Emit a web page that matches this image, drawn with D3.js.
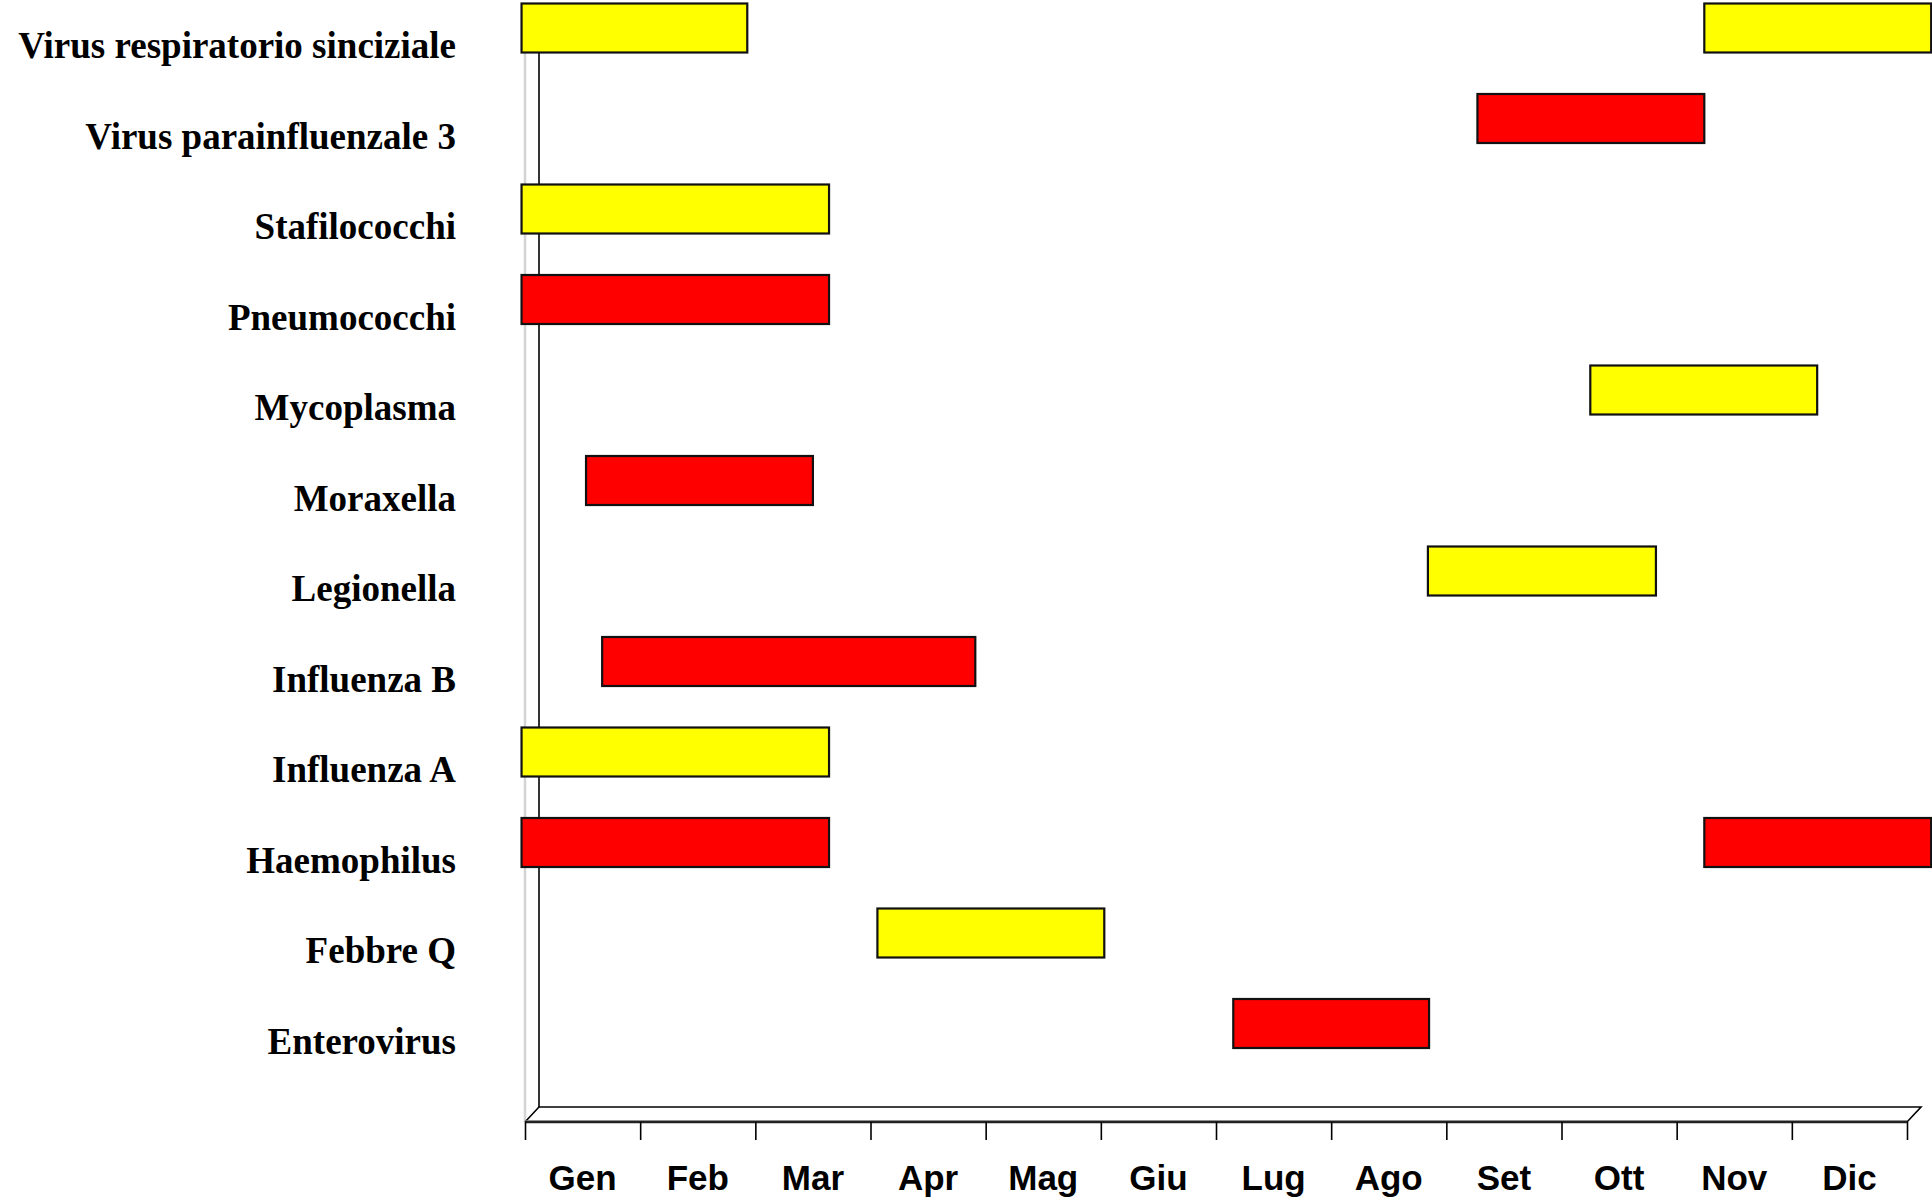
<!DOCTYPE html>
<html>
<head>
<meta charset="utf-8">
<script src="https://cdn.jsdelivr.net/npm/d3@7"></script>
<style>
  html, body { margin: 0; padding: 0; background: #fff; }
  svg { display: block; }
</style>
</head>
<body>
<script>
// Seasonal peaks of respiratory pathogens, months on a 0–12 scale (0 = start of January)
const pathogens = [
  "Virus respiratorio sinciziale",
  "Virus parainfluenzale 3",
  "Stafilococchi",
  "Pneumococchi",
  "Mycoplasma",
  "Moraxella",
  "Legionella",
  "Influenza B",
  "Influenza A",
  "Haemophilus",
  "Febbre Q",
  "Enterovirus"
];
const seasonStart = [-0.03, 8.27, -0.03, -0.03, 9.25, 0.53, 7.84, 0.67, -0.03, -0.03, 3.06, 6.15];
const seasonEnd   = [ 1.93, 10.24, 2.64, 2.64, 11.22, 2.50, 9.82, 3.91, 2.64, 2.64, 5.03, 7.85];
// second season within the same year (late autumn), null where absent
const lateStart = [10.24, null, null, null, null, null, null, null, null, 10.24, null, null];
const lateEnd   = [12.21, null, null, null, null, null, null, null, null, 12.21, null, null];
const months = ["Gen", "Feb", "Mar", "Apr", "Mag", "Giu", "Lug", "Ago", "Set", "Ott", "Nov", "Dic"];

const W = 1932, H = 1199;
const svg = d3.select("body").append("svg").attr("width", W).attr("height", H);

const x = d3.scaleLinear().domain([0, 12]).range([525, 1907]);
const y = d3.scalePoint().domain(pathogens).range([28, 1023.5]);
const depthX = 14, depthY = -15;
const floorY = 1122, topY = 23;
const barH = 49;

// left wall and floor of the 3D frame
const wall = svg.append("g").attr("fill", "none");
wall.append("line")
  .attr("x1", x(0)).attr("x2", x(0)).attr("y1", topY).attr("y2", floorY)
  .attr("stroke", "#d4d4d4").attr("stroke-width", 2.5);
wall.append("line")
  .attr("x1", x(0) + depthX).attr("x2", x(0) + depthX).attr("y1", topY + depthY).attr("y2", floorY + depthY)
  .attr("stroke", "#000").attr("stroke-width", 1.6);
wall.append("line")
  .attr("x1", x(0)).attr("x2", x(0) + depthX).attr("y1", topY).attr("y2", topY + depthY)
  .attr("stroke", "#000").attr("stroke-width", 1.6);
wall.append("path")
  .attr("d", `M${x(0)},${floorY} L${x(0) + depthX},${floorY + depthY} L${x(12) + depthX},${floorY + depthY} L${x(12)},${floorY}`)
  .attr("stroke", "#000").attr("stroke-width", 1.6);
wall.append("line")
  .attr("x1", x(0)).attr("x2", x(12)).attr("y1", floorY - 1.2).attr("y2", floorY - 1.2)
  .attr("stroke", "#999").attr("stroke-width", 1);
wall.append("line")
  .attr("x1", x(0)).attr("x2", x(12)).attr("y1", floorY).attr("y2", floorY)
  .attr("stroke", "#222").attr("stroke-width", 2.4);

// month axis
const axis = svg.append("g")
  .attr("transform", `translate(0,${floorY})`)
  .call(d3.axisBottom(x).tickValues(d3.range(0, 13)).tickSize(18).tickFormat(""));
axis.select(".domain").remove();
axis.selectAll(".tick line").attr("stroke", "#000").attr("stroke-width", 1.6);

svg.append("g").selectAll("text").data(months).join("text")
  .attr("x", (d, i) => x(i + 0.5))
  .attr("y", 1190)
  .attr("text-anchor", "middle")
  .attr("font-family", "'Liberation Sans', Arial, sans-serif")
  .attr("font-weight", "bold")
  .attr("font-size", 35)
  .attr("fill", "#000")
  .text(d => d);

// pathogen names
svg.append("g").selectAll("text").data(pathogens).join("text")
  .attr("x", 456)
  .attr("y", d => y(d) + 30)
  .attr("text-anchor", "end")
  .attr("font-family", "'Liberation Serif', 'Times New Roman', serif")
  .attr("font-weight", "bold")
  .attr("font-size", 37)
  .attr("fill", "#000")
  .text(d => d);

// season bars: colours alternate by row
const rowColor = i => (i % 2 === 0 ? "#ffff00" : "#ff0000");
const bars = [];
pathogens.forEach((p, i) => {
  bars.push({ p, i, s: seasonStart[i], e: seasonEnd[i] });
  if (lateStart[i] !== null) bars.push({ p, i, s: lateStart[i], e: lateEnd[i] });
});

svg.append("g").selectAll("rect").data(bars).join("rect")
  .attr("x", d => x(d.s))
  .attr("y", d => y(d.p) - barH / 2)
  .attr("width", d => x(d.e) - x(d.s))
  .attr("height", barH)
  .attr("fill", d => rowColor(d.i))
  .attr("stroke", "#111")
  .attr("stroke-width", 2.2);
</script>
</body>
</html>
